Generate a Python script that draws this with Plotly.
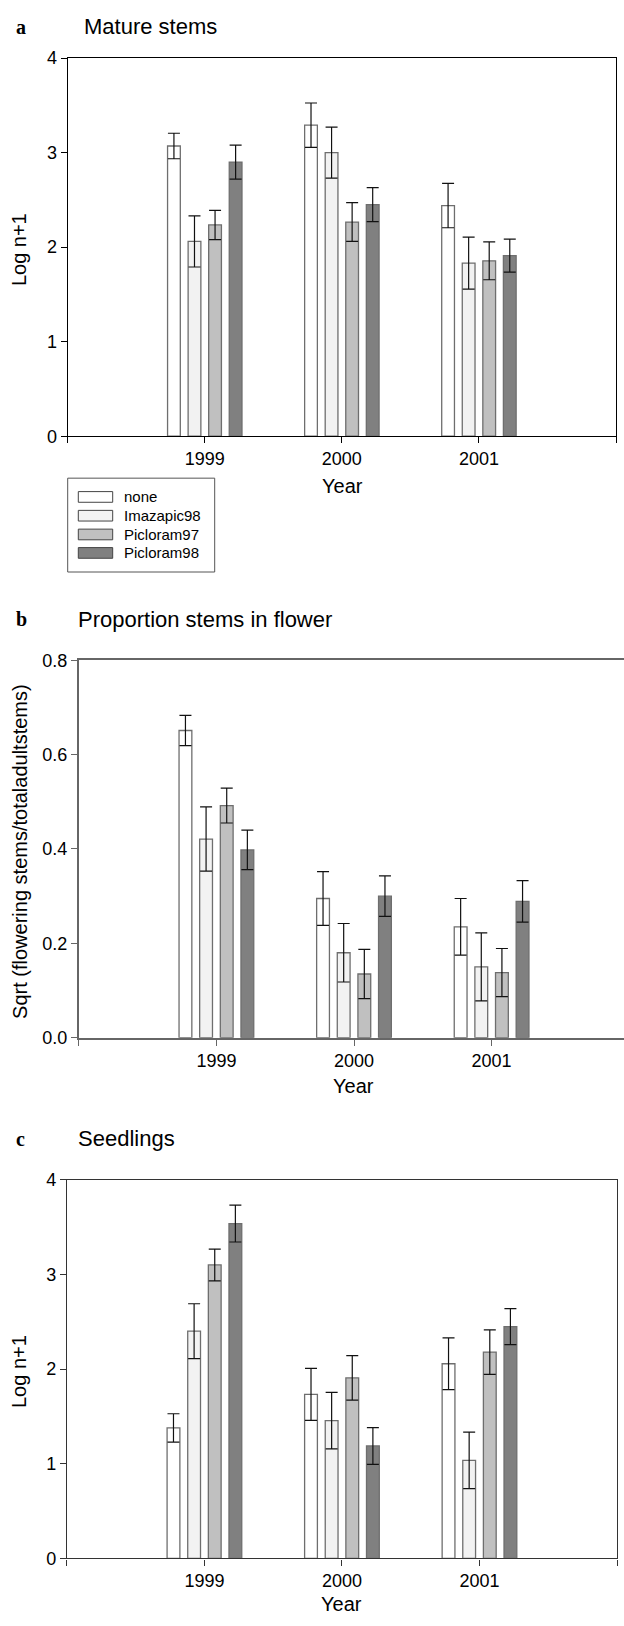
import plotly.graph_objects as go

# ---------------- data ----------------
years = [1999, 2000, 2001]
treatments = ["none", "Imazapic98", "Picloram97", "Picloram98"]
fill_colors = ["#ffffff", "#f2f2f2", "#c0c0c0", "#808080"]

# panel a: Mature stems (Log n+1)
mature_none = [3.07, 3.29, 2.44]
mature_imaz98 = [2.06, 3.00, 1.83]
mature_picl97 = [2.235, 2.265, 1.855]
mature_picl98 = [2.90, 2.45, 1.91]
mature_none_se = [0.135, 0.235, 0.235]
mature_imaz98_se = [0.27, 0.27, 0.275]
mature_picl97_se = [0.155, 0.205, 0.20]
mature_picl98_se = [0.18, 0.18, 0.175]

# panel b: Proportion stems in flower (sqrt)
flower_none = [0.651, 0.295, 0.235]
flower_imaz98 = [0.421, 0.180, 0.150]
flower_picl97 = [0.492, 0.135, 0.138]
flower_picl98 = [0.398, 0.300, 0.289]
flower_none_se = [0.032, 0.057, 0.060]
flower_imaz98_se = [0.068, 0.062, 0.072]
flower_picl97_se = [0.037, 0.052, 0.051]
flower_picl98_se = [0.042, 0.043, 0.044]

# panel c: Seedlings (Log n+1)
seed_none = [1.378, 1.733, 2.056]
seed_imaz98 = [2.40, 1.455, 1.035]
seed_picl97 = [3.10, 1.906, 2.18]
seed_picl98 = [3.537, 1.188, 2.449]
seed_none_se = [0.15, 0.275, 0.274]
seed_imaz98_se = [0.29, 0.298, 0.298]
seed_picl97_se = [0.168, 0.235, 0.235]
seed_picl98_se = [0.195, 0.194, 0.19]

x_tickvals = [1998, 1999, 2000, 2001, 2002]
x_ticktext = ["", "1999", "2000", "2001", ""]

# ---------------- layout helpers ----------------
W, H = 624, 1626
def px(x):
    return x / W
def py(y):
    return 1 - y / H

FONT = "Liberation Sans, Arial, Helvetica, sans-serif"
SERIF = "Liberation Serif, Times New Roman, serif"

panels = [
    dict(letter="a", title="Mature stems", title_x=81.6, title_y=17,
         ytitle="Log n+1", ytitle_x=19,
         series=[mature_none, mature_imaz98, mature_picl97, mature_picl98],
         errs=[mature_none_se, mature_imaz98_se, mature_picl97_se, mature_picl98_se],
         xdom=(67.7, 616.0), ydom=(48.7, 431.5), xrange=[1998, 2002],
         yrange=[0, 4], ydtick=1, yfmt="d", linecol="#000000", linew=1.3, mirror_y=True,
         xtitle_y=482),
    dict(letter="b", title="Proportion stems in flower", title_x=76, title_y=617,
         ytitle="Sqrt (flowering stems/totaladultstems)", ytitle_x=20,
         series=[flower_none, flower_imaz98, flower_picl97, flower_picl98],
         errs=[flower_none_se, flower_imaz98_se, flower_picl97_se, flower_picl98_se],
         xdom=(78.8, 624.0), ydom=(658.3, 1040.5),
         xrange=[1998, 1998 + (624 - 78.8) / 137.6],
         yrange=[0, 0.8], ydtick=0.2, yfmt=".1f", linecol="#666666", linew=2, mirror_y=False,
         xtitle_y=1089),
    dict(letter="c", title="Seedlings", title_x=75.6, title_y=1143,
         ytitle="Log n+1", ytitle_x=19,
         series=[seed_none, seed_imaz98, seed_picl97, seed_picl98],
         errs=[seed_none_se, seed_imaz98_se, seed_picl97_se, seed_picl98_se],
         xdom=(66.9, 617.0), ydom=(1184.3, 1567.7), xrange=[1998, 2002],
         yrange=[0, 4], ydtick=1, yfmt="d", linecol="#333333", linew=1.3, mirror_y=True,
         xtitle_y=1614),
]

fig = go.Figure()
annotations = []
shapes = []
layout_axes = {}

for i, p in enumerate(panels):
    n = "" if i == 0 else str(i + 1)
    xa, ya = "x" + n, "y" + n
    for k, name in enumerate(treatments):
        fig.add_trace(go.Bar(
            x=years, y=p["series"][k], name=name, xaxis=xa, yaxis=ya,
            showlegend=False,
            marker=dict(color=fill_colors[k], line=dict(color="#6e6e6e", width=1.3)),
            error_y=dict(type="data", array=p["errs"][k], symmetric=True,
                         color="#111111", thickness=1.2, width=6),
        ))
    layout_axes["xaxis" + n] = dict(
        domain=[px(p["xdom"][0]), px(p["xdom"][1])], anchor=ya,
        range=p["xrange"], tickmode="array", tickvals=x_tickvals, ticktext=x_ticktext,
        ticks="outside", ticklen=6, tickwidth=1, tickcolor=p["linecol"],
        showline=True, linecolor=p["linecol"], linewidth=p["linew"], mirror=True,
        showgrid=False, zeroline=False,
        tickfont=dict(family=FONT, size=18, color="#000"),
    )
    layout_axes["yaxis" + n] = dict(
        domain=[py(p["ydom"][1]), py(p["ydom"][0])], anchor=xa,
        range=p["yrange"], dtick=p["ydtick"], tick0=0, tickformat=p["yfmt"],
        ticks="outside", ticklen=6, tickwidth=1, tickcolor=p["linecol"],
        showline=True, linecolor=p["linecol"], linewidth=p["linew"], mirror=p["mirror_y"],
        showgrid=False, zeroline=False,
        tickfont=dict(family=FONT, size=18, color="#000"),
    )
    # panel letter
    annotations.append(dict(text="<b>%s</b>" % p["letter"], x=px(14), y=py(p["title_y"]),
                            xref="paper", yref="paper", xanchor="left", yanchor="middle",
                            showarrow=False, font=dict(family=SERIF, size=20, color="#000")))
    # panel title
    annotations.append(dict(text=p["title"], x=px(p["title_x"]), y=py(p["title_y"]),
                            xref="paper", yref="paper", xanchor="left", yanchor="middle",
                            showarrow=False, font=dict(family=FONT, size=22, color="#000")))
    # y title
    annotations.append(dict(text=p["ytitle"], x=px(p["ytitle_x"]),
                            y=py((p["ydom"][0] + p["ydom"][1]) / 2 + 3),
                            xref="paper", yref="paper", xanchor="center", yanchor="middle",
                            textangle=-90, showarrow=False,
                            font=dict(family=FONT, size=20, color="#000")))
    # x title
    xc = (p["xdom"][0] + p["xdom"][0] + 4 * 137.4) / 2
    annotations.append(dict(text="Year", x=px(xc), y=py(p["xtitle_y"]),
                            xref="paper", yref="paper", xanchor="center", yanchor="middle",
                            showarrow=False, font=dict(family=FONT, size=20, color="#000")))

# legend (built from treatments list / colors)
shapes.append(dict(type="rect", xref="paper", yref="paper",
                   x0=px(67.7), x1=px(214.7), y0=py(569), y1=py(474),
                   line=dict(color="#555555", width=1), fillcolor="white"))
row_y = [493, 512, 531, 549.7]
for k, name in enumerate(treatments):
    shapes.append(dict(type="rect", xref="paper", yref="paper",
                       x0=px(78.3), x1=px(112.7), y0=py(row_y[k] + 5.4), y1=py(row_y[k] - 5.4),
                       line=dict(color="#444444", width=1), fillcolor=fill_colors[k]))
    annotations.append(dict(text=name, x=px(121.7), y=py(row_y[k]), xref="paper", yref="paper",
                            xanchor="left", yanchor="middle", showarrow=False,
                            font=dict(family=FONT, size=15, color="#000")))

fig.update_layout(
    width=W, height=H, margin=dict(l=0, r=0, t=0, b=0),
    paper_bgcolor="white", plot_bgcolor="white",
    barmode="group", bargap=0.4, bargroupgap=0.38,
    showlegend=False, annotations=annotations, shapes=shapes,
    font=dict(family=FONT, color="#000"),
    **layout_axes,
)

fig.write_html("out.html", config={"displayModeBar": False},
               post_script="document.body.style.margin='0px';document.body.style.overflow='hidden';")
